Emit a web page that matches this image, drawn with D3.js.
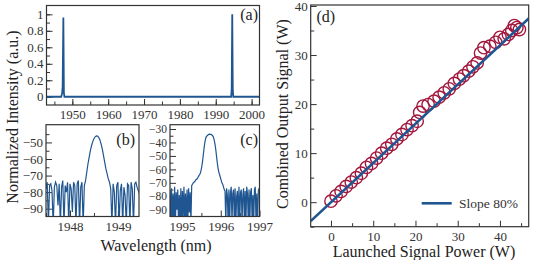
<!DOCTYPE html>
<html><head><meta charset="utf-8">
<script src="https://cdn.jsdelivr.net/npm/d3@7"></script>
<style>
body{margin:0;background:#fff;}
svg{display:block;font-family:"Liberation Serif","Times New Roman",serif;}
</style></head>
<body><svg id="c" width="534" height="260"></svg>
<script>
// ---------- DATA ----------
// Panel (a): full spectrum (normalized intensity)
const wlA  = [1942.8, 1946.9, 1947.15, 1947.3, 1947.5, 1947.65, 1947.8, 1994.3, 1994.45, 1994.6, 1994.75, 1994.9, 2002.2];
const intA = [0, 0, 0.04, 0.12, 0.96, 0.05, 0, 0, 0.1, 1.0, 0.08, 0, 0];
const xTicksA = [1950, 1960, 1970, 1980, 1990, 2000];
const yTicksA = [0, 0.2, 0.4, 0.6, 0.8, 1];

// Panel (b): zoom around 1948.6 nm (dB), sampled every 0.025 nm from 1947.5
const wlStartB = 1947.5, wlStepB = 0.025;
const dbB = [
 -78,-74,-100,-76,-75,-79,-100,-77,-74,-76,-88,-75,-100,-77,-73,-100,-76,-80,-74,-100,
 -75,-78,-92,-74,-76,-100,-75,-73,-100,-77,-74,-100,-76,
 -73,-68,-63,-59,-55,-52,-49.5,-47.8,-46.6,-46.1,-46.2,-47,-48.5,-51,-54,-58,-62,-66,-69,-72,-74,
 -78,-100,-75,-80,-100,-76,-74,-100,-79,-75,-100,-77,-82,-100,-75,-76,-100,-74,-78,-100,-75,-74,-77,-79,-81
];
const xTicksB = [1948, 1949];
const yTicksB = [-50, -60, -70, -80, -90];

// Panel (c): zoom around 1995.8 nm (dB), sampled every 0.02 nm from 1994.69
const wlStartC = 1994.69, wlStepC = 0.02;
const dbC = [
 -76,-100,-74,-98,-78,-100,-73,-100,-77,-90,-75,-100,-79,-100,-74,-100,-76,-95,-73,-100,-78,-100,-75,-100,-74,-92,-77,-100,
 -72,-71,-70,-69.5,-69,-68,-67.5,-67,-66,-65,-64,-63,-61,-58,-54,-49,-44,-40,-37,-35.5,-35,-34.5,-34,-33.8,-34,-34,-34.5,-35,-36,-38,-41,-45,-50,-55,-59,-62,-64,-66,-68,-70,-71,-73,-75,
 -76,-100,-74,-79,-100,-75,-100,-77,-73,-100,-78,-75,-100,-74,-100,-80,-76,-100,-73,-100,-77,-75,-100,-79,-74,-100,-76,-100,-73,-78,-100,-75,-100,-77,-74,-100,-79,-100,-75,-73,-100,-78,-100,-76,-74
];
const xTicksC = [1995, 1996, 1997];
const yTicksC = [-30, -40, -50, -60, -70, -80, -90];

// Panel (d): combined output vs launched power
const launched = [0,1.2,2.4,3.6,4.8,6.0,7.2,8.4,9.6,10.8,12.0,13.2,14.4,15.6,16.8,18.0,19.2,20.4,21.0,21.8,23.0,24.4,25.6,26.8,28.0,29.2,30.4,31.4,32.6,33.6,34.6,35.4,36.2,37.6,39.0,40.0,41.0,42.0,42.8,43.4,44.0,44.6];
const combined = [0.2,1.3,2.2,3.2,4.1,5.0,5.9,7.1,7.9,9.0,10.0,11.0,11.8,12.9,13.8,14.8,15.6,16.5,18.3,19.6,19.9,20.6,21.4,22.3,23.1,24.2,25.1,25.8,26.7,27.6,28.4,30.4,31.5,31.8,32.6,33.6,33.3,34.2,35.0,36.0,35.6,35.2];
const fitSlope = 0.8;
const xTicksD = [0, 10, 20, 30, 40];
const yTicksD = [0, 10, 20, 30, 40];

// ---------- DRAW ----------
const svg = d3.select("#c");
const BLUE = "#1f5691", RED = "#a3173d", FRAME = "#333";
let clipId = 0;

function panel(o){
  const x = d3.scaleLinear().domain(o.xd).range([o.l, o.r]);
  const y = d3.scaleLinear().domain(o.yd).range([o.b, o.t]);
  const g = svg.append("g");
  const id = "clip" + (clipId++);
  svg.append("clipPath").attr("id", id).append("rect")
    .attr("x", o.l).attr("y", o.t).attr("width", o.r - o.l).attr("height", o.b - o.t);
  const gx = g.append("g").attr("transform", `translate(0,${o.b})`)
    .call(d3.axisBottom(x).tickValues(o.xt).tickSize(-6).tickPadding(5).tickFormat(o.xf || d3.format("d")));
  g.append("g").attr("transform", `translate(0,${o.b})`)
    .call(d3.axisBottom(x).tickValues(o.xm).tickSize(-3.5).tickFormat(""));
  const gy = g.append("g").attr("transform", `translate(${o.l},0)`)
    .call(d3.axisLeft(y).tickValues(o.yt).tickSize(-6).tickPadding(3).tickFormat(o.yf || d3.format("d")));
  g.append("g").attr("transform", `translate(${o.l},0)`)
    .call(d3.axisLeft(y).tickValues(o.ym).tickSize(-3.5).tickFormat(""));
  g.selectAll(".domain").remove();
  g.selectAll(".tick line").attr("stroke", FRAME).attr("stroke-width", 1);
  g.selectAll(".tick text").attr("font-size", 13).attr("fill", "#333")
    .attr("font-family", '"Liberation Serif", serif');
  if (o.yfs) gy.selectAll(".tick text").attr("font-size", o.yfs);
  const plot = svg.append("g").attr("clip-path", `url(#${id})`);
  svg.append("rect").attr("x", o.l).attr("y", o.t).attr("width", o.r - o.l).attr("height", o.b - o.t)
    .attr("fill", "none").attr("stroke", FRAME).attr("stroke-width", 1.2);
  return {x, y, plot};
}

const minus = v => (v < 0 ? "\u2212" + Math.abs(v) : "" + v);

// (a)
const pa = panel({l:46.5, r:259.5, t:5.5, b:105, xd:[1942.8, 2002.2], yd:[-0.1, 1.107],
  xt:xTicksA, xm:d3.range(1945, 2002, 5), yt:yTicksA, ym:d3.range(0, 1.05, 0.1),
  yf:d3.format("~g")});
pa.plot.append("path").datum(wlA.map((w,i)=>[w,intA[i]]))
  .attr("fill","none").attr("stroke",BLUE).attr("stroke-width",1.8)
  .attr("d", d3.line().x(d=>pa.x(d[0])).y(d=>pa.y(d[1])));

// (b)
const pb = panel({l:46, r:139, t:124.7, b:216.5, xd:[1947.5, 1949.44], yd:[-94.7, -39.3],
  xt:xTicksB, xm:[1947.5, 1948.5], yt:yTicksB, ym:[-45,-55,-65,-75,-85], yf:minus});
pb.plot.append("path").datum(dbB.map((v,i)=>[wlStartB + i*wlStepB, v]))
  .attr("fill","none").attr("stroke",BLUE).attr("stroke-width",1.2)
  .attr("d", d3.line().x(d=>pb.x(d[0])).y(d=>pb.y(d[1])));

// (c)
const pc = panel({l:170, r:259.5, t:124.7, b:216.5, xd:[1994.69, 1997.0], yd:[-95, -26.8],
  xt:xTicksC, xm:[1995.5, 1996.5], yt:yTicksC, ym:[-35,-45,-55,-65,-75,-85], yf:minus, yfs:11.5});
pc.plot.append("path").datum(dbC.map((v,i)=>[wlStartC + i*wlStepC, v]))
  .attr("fill","none").attr("stroke",BLUE).attr("stroke-width",1.2)
  .attr("d", d3.line().x(d=>pc.x(d[0])).y(d=>pc.y(d[1])));

// (d)
const pd = panel({l:310.7, r:528.7, t:5, b:226.7, xd:[-4.8, 46.8], yd:[-5, 40.2],
  xt:xTicksD, xm:[5,15,25,35,45], yt:yTicksD, ym:[-5,5,15,25,35]});
pd.plot.selectAll("circle").data(launched).enter().append("circle")
  .attr("cx", d=>pd.x(d)).attr("cy", (d,i)=>pd.y(combined[i])).attr("r", 6.2)
  .attr("fill","none").attr("stroke",RED).attr("stroke-width",1.4);
const fitX = pd.x.domain();
pd.plot.append("line")
  .attr("x1", pd.x(fitX[0])).attr("y1", pd.y(fitSlope*fitX[0]))
  .attr("x2", pd.x(fitX[1])).attr("y2", pd.y(fitSlope*fitX[1]))
  .attr("stroke",BLUE).attr("stroke-width",2.6);

// legend
svg.append("line").attr("x1",421.7).attr("x2",451.7).attr("y1",203.3).attr("y2",203.3)
  .attr("stroke",BLUE).attr("stroke-width",2.6);
svg.append("text").attr("x",459).attr("y",208).attr("font-size",13.5).attr("fill","#333").text("Slope 80%");

// panel labels
const lab = (t,x,y,anchor)=>svg.append("text").attr("x",x).attr("y",y).attr("text-anchor",anchor)
  .attr("font-size",16).attr("fill","#222").text(t);
lab("(a)",258,20,"end"); lab("(b)",135,145,"end"); lab("(c)",258,145,"end"); lab("(d)",316.5,22,"start");

// axis titles
svg.append("text").attr("transform","translate(18,117) rotate(-90)").attr("text-anchor","middle")
  .attr("font-size",16).attr("fill","#222").text("Normalized Intensity (a.u.)");
svg.append("text").attr("x",156).attr("y",251).attr("text-anchor","middle")
  .attr("font-size",16).attr("fill","#222").text("Wavelength (nm)");
svg.append("text").attr("transform","translate(288,114) rotate(-90)").attr("text-anchor","middle")
  .attr("font-size",16).attr("fill","#222").text("Combined Output Signal (W)");
svg.append("text").attr("x",424).attr("y",257).attr("text-anchor","middle")
  .attr("font-size",16).attr("fill","#222").text("Launched Signal Power (W)");
</script></body></html>
